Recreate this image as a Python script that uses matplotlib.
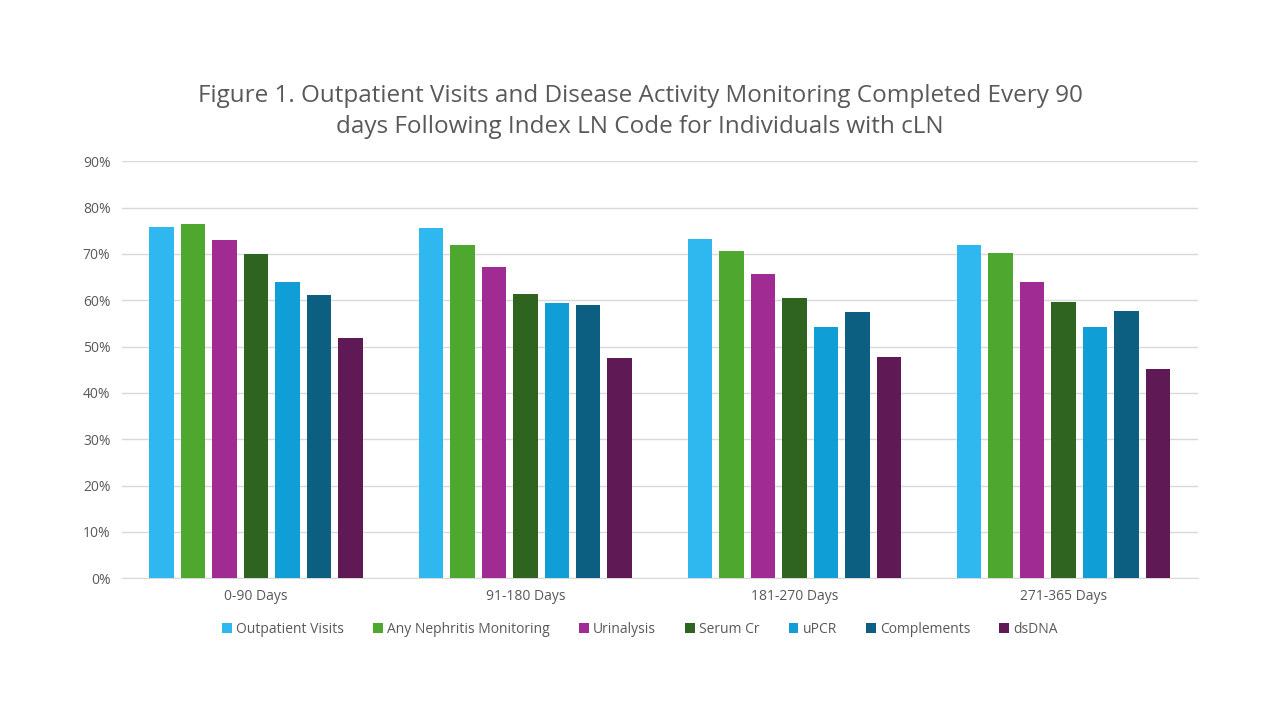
import numpy as np
import matplotlib.pyplot as plt
from matplotlib.ticker import PercentFormatter

# ----------------- Data -----------------
periods = ["0-90 Days", "91-180 Days", "181-270 Days", "271-365 Days"]
series_names = ["Outpatient Visits", "Any Nephritis Monitoring", "Urinalysis",
                "Serum Cr", "uPCR", "Complements", "dsDNA"]

outpatient = [75.9, 75.7, 73.2, 72.0]
any_nephritis = [76.5, 72.0, 70.7, 70.1]
urinalysis = [73.1, 67.1, 65.6, 63.9]
serum_cr = [70.0, 61.3, 60.4, 59.6]
upcr = [63.9, 59.4, 54.3, 54.2]
complements = [61.1, 59.0, 57.4, 57.6]
dsdna = [51.9, 47.6, 47.8, 45.1]

colors = ["#2EB8EF", "#4EA72E", "#A02B93", "#2E6420", "#0F9ED5", "#0C5F80", "#5F1A55"]

values = [outpatient, any_nephritis, urinalysis, serum_cr, upcr, complements, dsdna]

plt.rcParams['font.family'] = ['Open Sans', 'DejaVu Sans']
txt = "#595959"

fig = plt.figure(figsize=(12.8, 7.2), dpi=100)
ax = fig.add_axes([0.095, 0.197, 0.841, 0.579])

x = np.arange(len(periods))
slot = 0.117
width = 0.091
for i, (name, vals) in enumerate(zip(series_names, values)):
    ax.bar(x + (i - 3) * slot, vals, width, color=colors[i], label=name, zorder=3)

ax.set_xlim(-0.5, len(periods) - 0.5)
ax.set_ylim(0, 90)
ax.set_yticks(np.arange(0, 91, 10))
ax.yaxis.set_major_formatter(PercentFormatter(decimals=0))
ax.set_xticks(x)
ax.set_xticklabels(periods)
ax.grid(axis='y', color="#D9D9D9", linewidth=1, zorder=0)
for s in ["left", "right", "top"]:
    ax.spines[s].set_visible(False)
ax.spines["bottom"].set_color("#D9D9D9")
ax.tick_params(axis='both', length=0, labelsize=10, labelcolor=txt)
ax.tick_params(axis='x', pad=8)
ax.tick_params(axis='y', pad=8)

fig.suptitle("Figure 1. Outpatient Visits and Disease Activity Monitoring Completed Every 90\n"
             "days Following Index LN Code for Individuals with cLN",
             x=0.5, y=0.883, fontsize=17.5, color=txt, linespacing=1.4)

fig.legend(loc="center", bbox_to_anchor=(0.5, 0.126), ncol=7, frameon=False,
           fontsize=10, handlelength=0.7, handleheight=0.7, handletextpad=0.3,
           columnspacing=2.1, labelcolor=txt)

fig.savefig("out.png", dpi=100)
